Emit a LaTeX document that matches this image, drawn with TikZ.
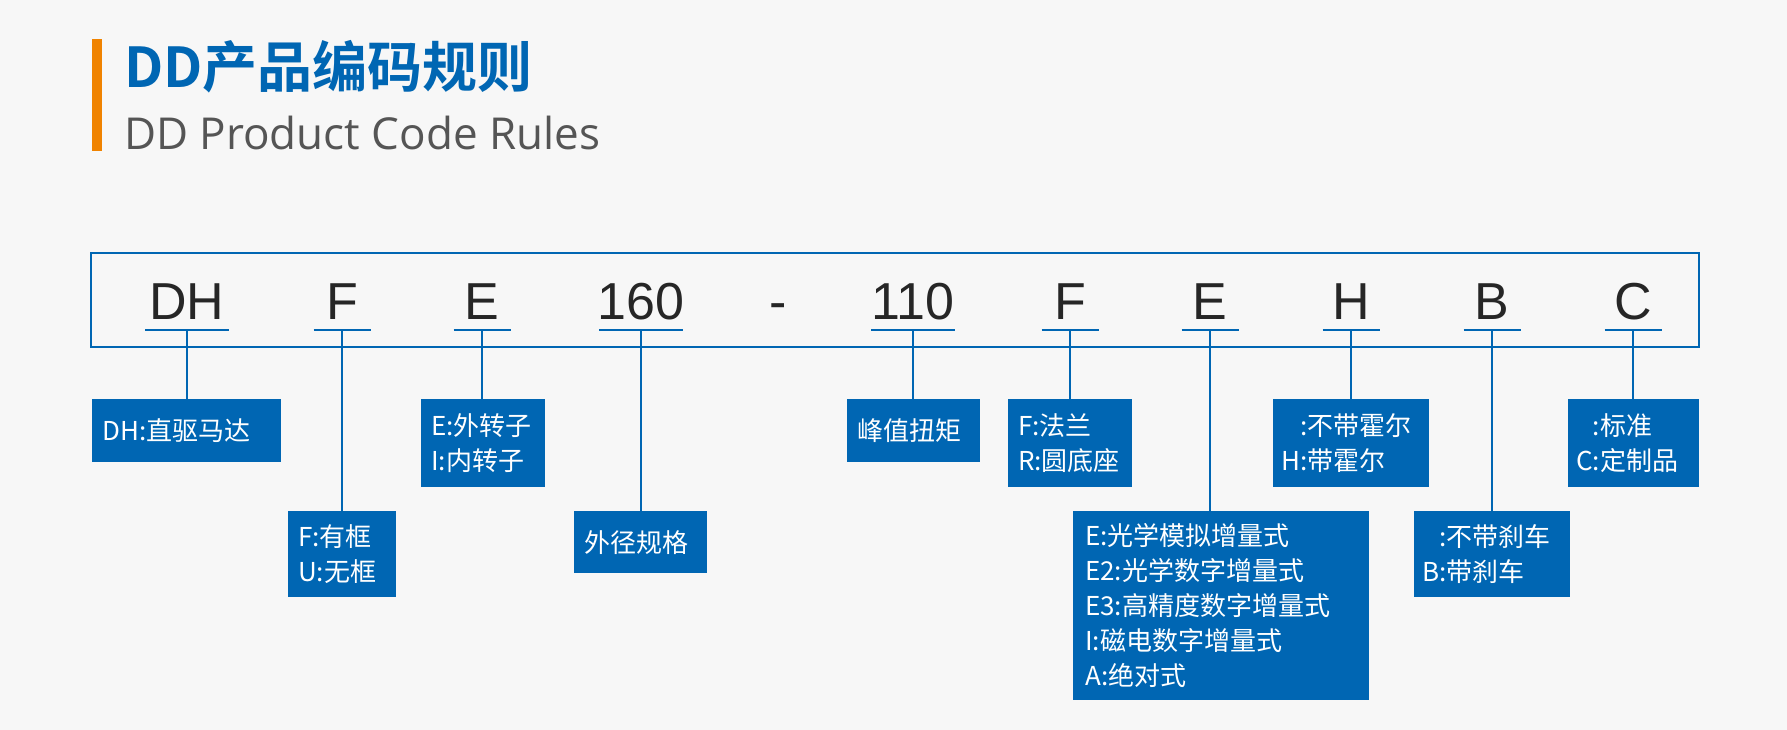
\documentclass[tikz,border=0pt]{standalone}
\usepackage{fontspec}
\usetikzlibrary{calc}
\setmainfont{Liberation Sans}
\newfontfamily\cjk{Noto Sans CJK SC}
\newfontfamily\cjkb{Noto Sans CJK SC Bold}
\newfontfamily\subfont{Open Sans}
\definecolor{ddblue}{HTML}{0066B3}
\definecolor{ddorange}{HTML}{F08300}
\definecolor{ddgray}{HTML}{555555}
\definecolor{ddbg}{HTML}{F7F7F7}
\tikzset{
  codebox/.style={fill=ddblue, text=white, inner xsep=10pt, inner ysep=0pt, align=left,
    font=\cjk\fontsize{26}{35}\selectfont, anchor=north west},
  codeletter/.style={font=\fontsize{52}{52}\selectfont, text=black!85, anchor=base},
  codeline/.style={draw=ddblue, line width=1.5pt}
}
\begin{document}
\begin{tikzpicture}[x=1pt,y=1pt,yscale=-1]
\useasboundingbox[fill=ddbg] (0,0) rectangle (1787,730);

% title
\fill[ddorange] (92,39) rectangle (102,151);
\node[anchor=base west, inner sep=0pt, text=ddblue, font=\cjkb\fontsize{55}{55}\selectfont] (title) at (124,88) {DD产品编码规则};
\node[anchor=base west, inner sep=0pt, text=ddgray, font=\subfont\fontsize{44}{44}\selectfont] (subtitle) at (124,150) {DD Product Code Rules};

% frame
\draw[ddblue, line width=2.8pt] (91,253) rectangle (1699,347);

% code letters with underlines
\foreach \cx/\txt/\w/\nm in {187/DH/84/DH, 342/F/57/F, 482/E/57/E, 641/160/84/S, 913/110/84/T,
    1070/F/57/FF, 1210/E/57/EE, 1351/H/57/H, 1492/B/57/B, 1633/C/57/C}{
  \node[codeletter] (l\nm) at (\cx,319) {\txt};
  \coordinate (u\nm) at (\cx,330);
  \draw[codeline] ($(u\nm)+(-\w/2,0)$) -- ($(u\nm)+(\w/2,0)$);
}
\node[codeletter] (ldash) at (778,319) {-};

% boxes
\node[codebox, minimum width=189pt, minimum height=63pt, text width=169pt] (bDH) at (92,399) {DH:直驱马达};
\node[codebox, minimum width=108pt, minimum height=86pt, text width=88pt] (bF) at (288,511) {F:有框\\U:无框};
\node[codebox, minimum width=124pt, minimum height=88pt, text width=104pt] (bE) at (421,399) {E:外转子\\I:内转子};
\node[codebox, minimum width=133pt, minimum height=62pt, text width=113pt] (bS) at (574,511) {外径规格};
\node[codebox, minimum width=133pt, minimum height=63pt, text width=113pt] (bT) at (847,399) {峰值扭矩};
\node[codebox, minimum width=124pt, minimum height=88pt, text width=104pt] (bFF) at (1008,399) {F:法兰\\R:圆底座};
\node[codebox, minimum width=296pt, minimum height=189pt, text width=272pt, inner xsep=12pt] (bEE) at (1073,511)
  {E:光学模拟增量式\\E2:光学数字增量式\\E3:高精度数字增量式\\I:磁电数字增量式\\A:绝对式};
\node[codebox, minimum width=156pt, minimum height=88pt, text width=140pt, inner xsep=8pt] (bH) at (1273,399) {\phantom{H}:不带霍尔\\H:带霍尔};
\node[codebox, minimum width=156pt, minimum height=86pt, text width=140pt, inner xsep=8pt] (bB) at (1414,511) {\phantom{B}:不带刹车\\B:带刹车};
\node[codebox, minimum width=131pt, minimum height=88pt, text width=115pt, inner xsep=8pt] (bC) at (1568,399) {\phantom{C}:标准\\C:定制品};

% connectors
\foreach \nm in {DH,F,E,S,T,FF,EE,H,B,C}
  \draw[codeline] (u\nm) -- (u\nm |- b\nm.north);
\end{tikzpicture}
\end{document}
